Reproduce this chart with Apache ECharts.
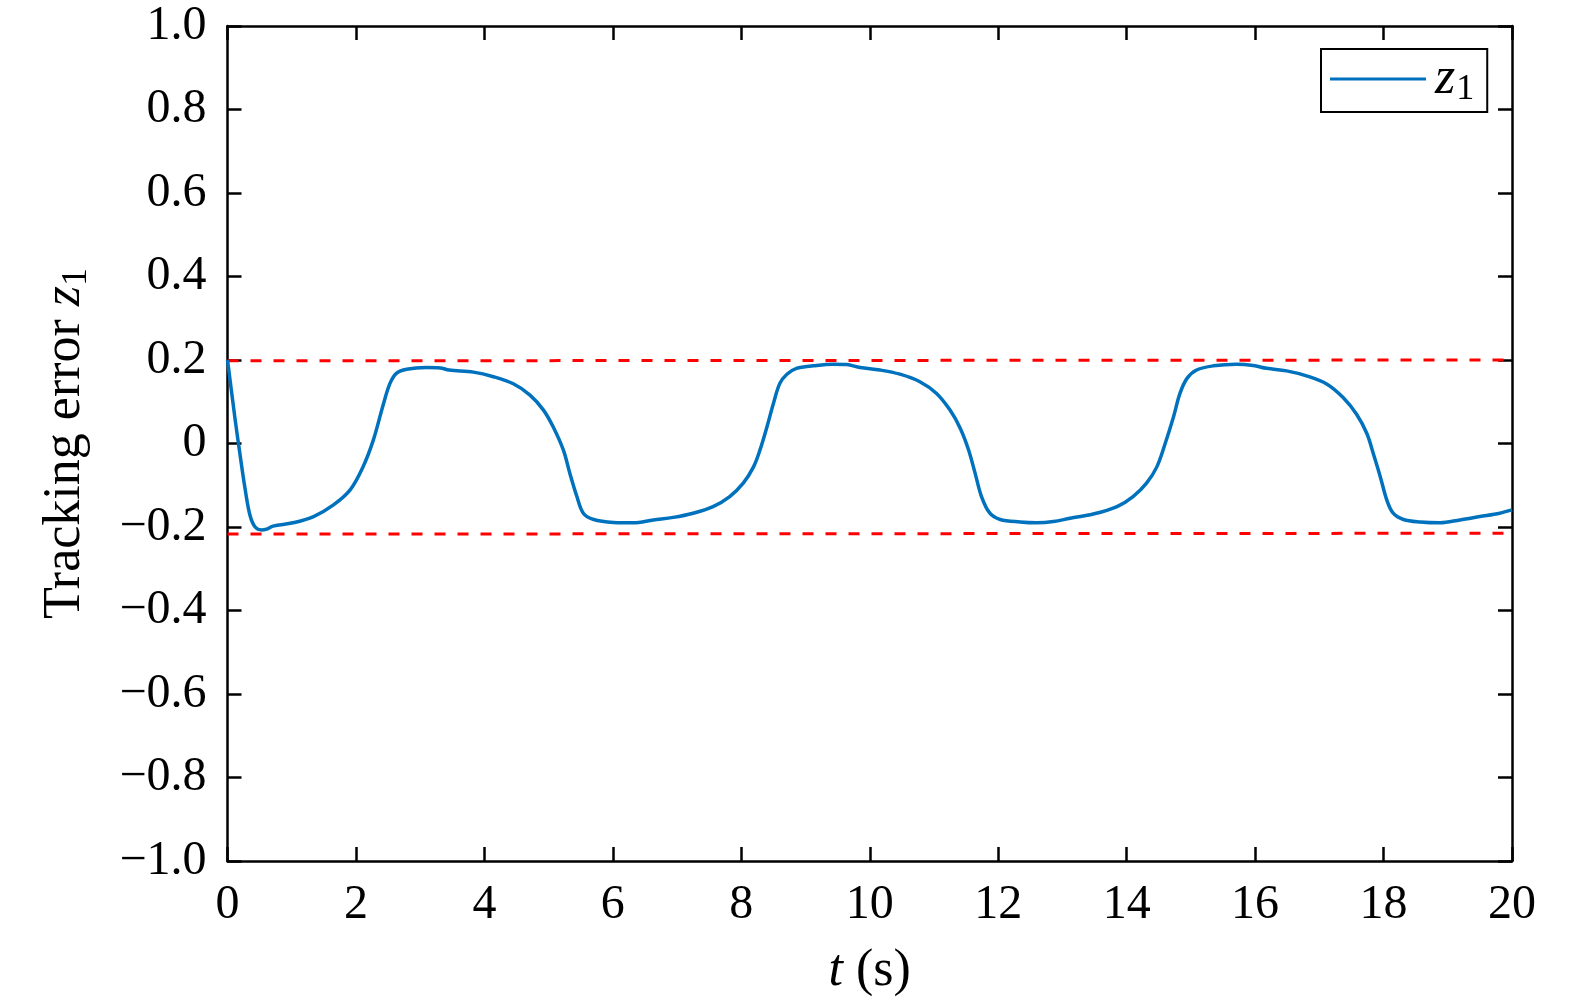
<!DOCTYPE html>
<html>
<head>
<meta charset="utf-8">
<script src="https://cdn.jsdelivr.net/npm/echarts@6/dist/echarts.min.js"></script>
<style>
html,body{margin:0;padding:0;background:#fff;}
#c{width:1575px;height:1004px;}
</style>
</head>
<body>
<div id="c"></div>
<script>
// time samples (s)
var tValues = [0,0.12,0.20,0.27,0.35,0.43,0.53,0.61,0.71,1.02,1.34,1.65,1.91,2.11,2.27,2.43,2.53,2.63,2.79,3.10,3.31,3.45,3.83,4.14,4.45,4.71,4.92,5.07,5.23,5.33,5.44,5.54,5.70,6.01,6.32,6.63,6.94,7.25,7.56,7.82,8.03,8.19,8.29,8.40,8.50,8.60,8.71,8.86,9.12,9.43,9.64,9.85,10.16,10.47,10.78,11.04,11.25,11.41,11.54,11.64,11.74,11.87,12.03,12.34,12.60,12.86,13.12,13.48,13.85,14.10,14.31,14.47,14.60,14.73,14.83,14.94,15.09,15.35,15.71,15.97,16.18,16.49,16.80,17.12,17.37,17.58,17.74,17.84,17.95,18.05,18.15,18.31,18.57,18.88,19.19,19.50,19.81,20.0];
// tracking error z1
var z1Values = [0.200,0.056,-0.032,-0.105,-0.172,-0.200,-0.207,-0.205,-0.198,-0.190,-0.175,-0.147,-0.111,-0.056,0.008,0.096,0.144,0.168,0.178,0.182,0.181,0.176,0.171,0.160,0.143,0.116,0.080,0.040,-0.016,-0.071,-0.127,-0.167,-0.182,-0.189,-0.190,-0.183,-0.177,-0.167,-0.151,-0.127,-0.095,-0.056,-0.016,0.040,0.096,0.144,0.166,0.180,0.186,0.190,0.189,0.182,0.176,0.166,0.148,0.120,0.080,0.036,-0.016,-0.071,-0.127,-0.167,-0.182,-0.188,-0.190,-0.187,-0.179,-0.169,-0.151,-0.127,-0.095,-0.056,0.000,0.064,0.120,0.156,0.176,0.186,0.190,0.187,0.180,0.174,0.162,0.142,0.110,0.070,0.024,-0.024,-0.080,-0.135,-0.167,-0.182,-0.188,-0.190,-0.183,-0.175,-0.167,-0.159];
// performance bounds (endpoints)
var boundT = [0, 20];
var upperBound = [0.198, 0.200];
var lowerBound = [-0.217, -0.215];
// axis ticks
var xTicks = {min: 0, max: 20, interval: 2};
var yTicks = {min: -1, max: 1, interval: 0.2};

var FONT = '"Liberation Serif", "Times New Roman", Times, serif';
function pairs(xs, ys){ return xs.map(function(x,i){ return [x, ys[i]]; }); }
function yFmt(v){
  if (Math.abs(v) < 1e-9) return '0';
  return (v < 0 ? '\u2212' : '') + Math.abs(v).toFixed(1);
}
var axisLine = {show: true, onZero: false, lineStyle: {color: '#000', width: 2.5}};
var axisTick = {show: true, inside: true, length: 14, lineStyle: {color: '#000', width: 2.5}};

var chart = echarts.init(document.getElementById('c'), null, {renderer: 'canvas'});
chart.setOption({
  backgroundColor: '#fff',
  animation: false,
  grid: {left: 227.5, right: 63, top: 26, bottom: 143, containLabel: false},
  legend: {
    show: true,
    data: ['z1'],
    left: 1321, top: 49,
    padding: [4, 13, 4, 9],
    borderColor: '#000', borderWidth: 2,
    backgroundColor: '#fff',
    icon: 'rect', itemWidth: 96, itemHeight: 3,
    formatter: function(){ return '{i|z}{s|1}'; },
    textStyle: {
      fontFamily: FONT, fontSize: 52, color: '#000',
      rich: {
        i: {fontFamily: FONT, fontStyle: 'italic', fontSize: 52, color: '#000', padding: [0,1,0,4], lineHeight: 52},
        s: {fontFamily: FONT, fontSize: 36, color: '#000', padding: [22,0,0,0]}
      }
    }
  },
  xAxis: [{
    type: 'value', min: xTicks.min, max: xTicks.max, interval: xTicks.interval,
    position: 'bottom',
    axisLine: axisLine, axisTick: axisTick, splitLine: {show: false},
    axisLabel: {color: '#000', fontFamily: FONT, fontSize: 48, margin: 20},
    name: '{i|t} (s)', nameLocation: 'middle', nameGap: 84,
    nameTextStyle: {color: '#000', fontFamily: FONT, fontSize: 52,
      rich: {i: {fontFamily: FONT, fontStyle: 'italic', fontSize: 52, color: '#000'}}}
  }, {
    type: 'value', min: xTicks.min, max: xTicks.max, interval: xTicks.interval,
    position: 'top',
    axisLine: axisLine, axisTick: axisTick, splitLine: {show: false},
    axisLabel: {show: false}
  }],
  yAxis: [{
    type: 'value', min: yTicks.min, max: yTicks.max, interval: yTicks.interval,
    position: 'left',
    axisLine: axisLine, axisTick: axisTick, splitLine: {show: false},
    axisLabel: {color: '#000', fontFamily: FONT, fontSize: 48, margin: 21, formatter: yFmt},
    name: 'Tracking error {i|z}{s|1}', nameLocation: 'middle', nameGap: 133, nameRotate: 90,
    nameTextStyle: {color: '#000', fontFamily: FONT, fontSize: 52,
      rich: {
        i: {fontFamily: FONT, fontStyle: 'italic', fontSize: 52, color: '#000'},
        s: {fontFamily: FONT, fontSize: 36, color: '#000', padding: [22,0,0,0]}
      }}
  }, {
    type: 'value', min: yTicks.min, max: yTicks.max, interval: yTicks.interval,
    position: 'right',
    axisLine: axisLine, axisTick: axisTick, splitLine: {show: false},
    axisLabel: {show: false}
  }],
  series: [{
    name: 'upper', type: 'line', data: pairs(boundT, upperBound),
    symbol: 'none', silent: true, z: 2,
    lineStyle: {color: '#FF0000', width: 3, type: [11, 12]}
  }, {
    name: 'lower', type: 'line', data: pairs(boundT, lowerBound),
    symbol: 'none', silent: true, z: 2,
    lineStyle: {color: '#FF0000', width: 3, type: [11, 12]}
  }, {
    name: 'z1', type: 'line', data: pairs(tValues, z1Values),
    symbol: 'none', smooth: 0.35, z: 3,
    itemStyle: {color: '#0072BD'},
    lineStyle: {color: '#0072BD', width: 3.5}
  }]
});
</script>
</body>
</html>
